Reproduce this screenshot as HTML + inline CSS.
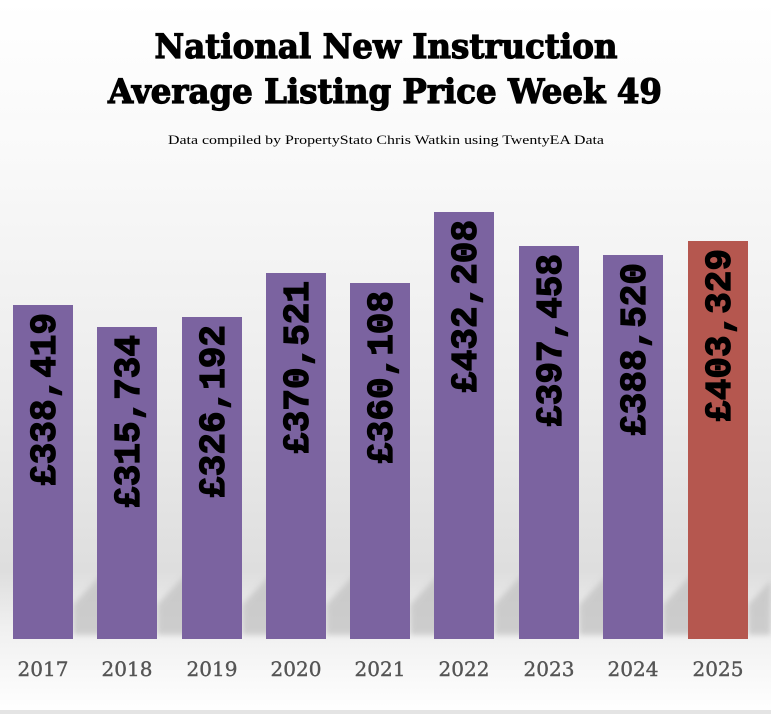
<!DOCTYPE html>
<html><head><meta charset="utf-8"><style>
html,body{margin:0;padding:0;width:771px;height:714px;overflow:hidden;background:#fff}
</style></head><body>
<svg width="771" height="714" viewBox="0 0 771 714" xmlns="http://www.w3.org/2000/svg">
<defs>
<linearGradient id="bg" x1="0" y1="0" x2="0" y2="1">
<stop offset="0" stop-color="#ffffff"/>
<stop offset="0.25" stop-color="#f8f8f8"/>
<stop offset="0.55" stop-color="#ececec"/>
<stop offset="0.8" stop-color="#dedede"/>
<stop offset="0.88" stop-color="#f0f0f0"/>
<stop offset="1" stop-color="#ffffff"/>
</linearGradient>
<filter id="bl"><feGaussianBlur stdDeviation="3"/></filter>
</defs>
<rect width="771" height="714" fill="url(#bg)"/>
<rect x="0" y="710" width="771" height="4" fill="#e4e4e4"/>
<g fill="#c4c4c4" filter="url(#bl)" opacity="0.8">
<polygon points="73,635 73,605 110,565 150,565 105,635"/>
<polygon points="157,635 157,605 194,565 234,565 189,635"/>
<polygon points="242,635 242,605 279,565 319,565 274,635"/>
<polygon points="326,635 326,605 363,565 403,565 358,635"/>
<polygon points="410,635 410,605 447,565 487,565 442,635"/>
<polygon points="494,635 494,605 531,565 571,565 526,635"/>
<polygon points="579,635 579,605 616,565 656,565 611,635"/>
<polygon points="663,635 663,605 700,565 740,565 695,635"/>
<polygon points="748,635 748,605 771,580 771,635"/>
</g>
<g font-family="'DejaVu Serif','Liberation Serif',serif" font-weight="bold" text-anchor="middle" fill="#000" stroke="#000" stroke-width="1.2">
<text x="386" y="58" font-size="34" textLength="463" lengthAdjust="spacingAndGlyphs">National New Instruction</text>
<text x="385" y="103" font-size="34" textLength="554" lengthAdjust="spacingAndGlyphs">Average Listing Price Week 49</text>
</g>
<text x="386" y="144" font-family="'Liberation Serif',serif" font-size="13" text-anchor="middle" textLength="436" lengthAdjust="spacingAndGlyphs" fill="#000">Data compiled by PropertyStato Chris Watkin using TwentyEA Data</text>
<g fill="#7b63a0">
<rect x="13" y="305" width="60" height="334"/>
<rect x="97" y="327" width="60" height="312"/>
<rect x="182" y="317" width="60" height="322"/>
<rect x="266" y="273" width="60" height="366"/>
<rect x="350" y="283" width="60" height="356"/>
<rect x="434" y="212" width="60" height="427"/>
<rect x="519" y="246" width="60" height="393"/>
<rect x="603" y="255" width="60" height="384"/>
</g>
<rect x="688" y="241" width="60" height="398" fill="#b5574f"/>
<g font-family="'Liberation Mono',monospace" font-weight="bold" font-size="36" fill="#000" stroke="#000" stroke-width="1.3" text-anchor="end">
<text transform="translate(55,313) rotate(-90)">£338,419</text>
<text transform="translate(139,335) rotate(-90)">£315,734</text>
<text transform="translate(224,325) rotate(-90)">£326,192</text>
<text transform="translate(308,281) rotate(-90)">£370,521</text>
<text transform="translate(392,291) rotate(-90)">£360,108</text>
<text transform="translate(476,220) rotate(-90)">£432,208</text>
<text transform="translate(561,254) rotate(-90)">£397,458</text>
<text transform="translate(645,263) rotate(-90)">£388,520</text>
<text transform="translate(730,249) rotate(-90)">£403,329</text>
</g>
<g font-family="'DejaVu Serif','Liberation Serif',serif" font-size="20" fill="#555" stroke="#555" stroke-width="0.4" text-anchor="middle">
<text x="43" y="676">2017</text>
<text x="127" y="676">2018</text>
<text x="212" y="676">2019</text>
<text x="296" y="676">2020</text>
<text x="380" y="676">2021</text>
<text x="464" y="676">2022</text>
<text x="549" y="676">2023</text>
<text x="633" y="676">2024</text>
<text x="718" y="676">2025</text>
</g>
</svg>
</body></html>
